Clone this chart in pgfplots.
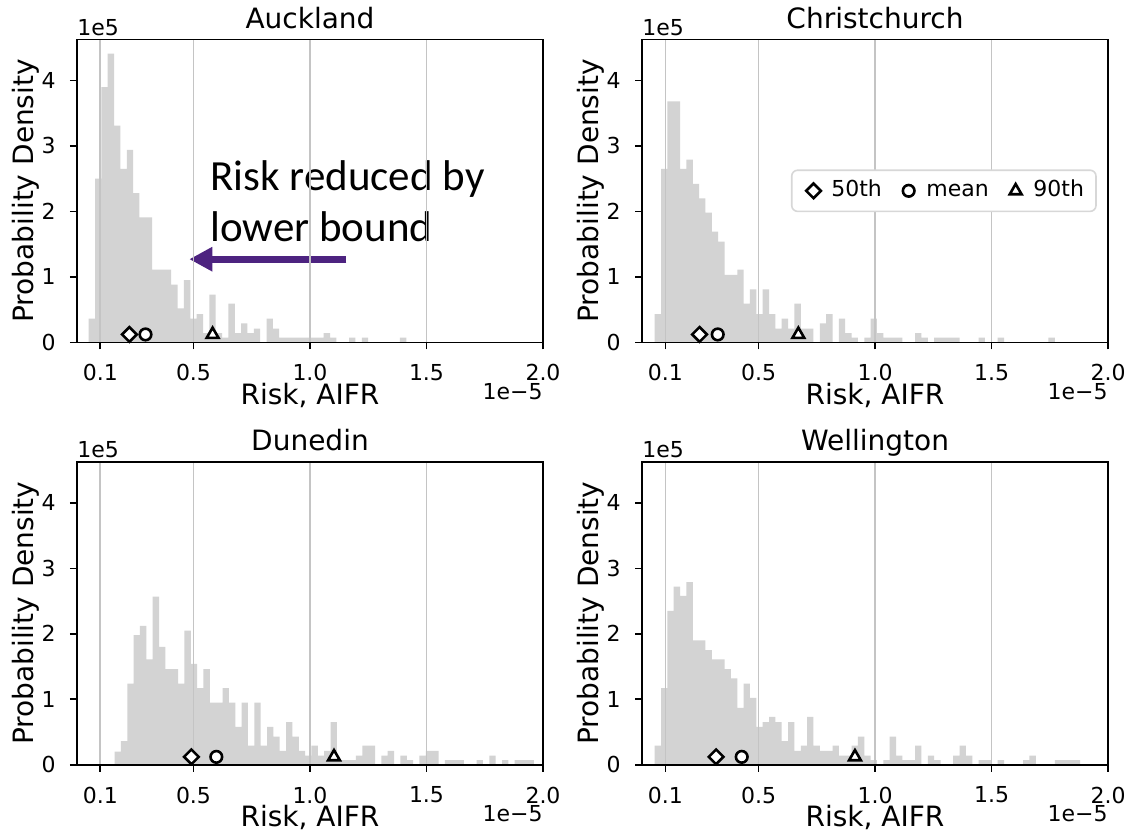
\documentclass[border=0pt]{standalone}
\usepackage{fontspec}
\setmainfont{DejaVu Sans}
\newfontfamily\annfont{Carlito}
\usepackage{pgfplots}
\pgfplotsset{compat=1.18}
\usetikzlibrary{arrows.meta}
\definecolor{histgray}{RGB}{211,211,211}
\definecolor{gridgray}{RGB}{196,196,196}
\definecolor{legframe}{RGB}{215,215,215}
\definecolor{annpurple}{RGB}{77,35,128}

\pgfplotsset{
  every axis title shift=0pt,
  riskaxis/.style={
    axis on top,
    scale only axis, width=233pt, height=151.5pt,
    xmin=0, xmax=2.0, ymin=0, ymax=4.63,
    xtick={0.1,0.5,1.0,1.5,2.0}, xticklabels={0.1,0.5,1.0,1.5,2.0},
    ytick={0,1,2,3,4}, yticklabels={0,1,2,3,4},
    tick pos=left, tick align=outside,
    major tick length=3.5pt,
    every tick/.style={black, line width=0.8pt},
    axis line style={black, line width=0.8pt},
    xmajorgrids=true, ymajorgrids=false,
    major grid style={gridgray, line width=0.8pt},
    tick label style={font=\fontsize{11}{13}\selectfont, inner sep=0pt},
    xticklabel style={anchor=north, yshift=-7.3pt},
    yticklabel style={anchor=east, xshift=-7pt},
    title style={at={(axis description cs:0.5,1.0373)}, anchor=base, inner sep=0pt, yshift=0pt, font=\fontsize{14}{16}\selectfont},
    every axis x label/.style={at={(axis description cs:0.5,-0.2046)}, anchor=base, inner sep=0pt, font=\fontsize{14}{16}\selectfont},
    every axis y label/.style={at={(axis description cs:-0.0923,0.5)}, anchor=base, rotate=90, inner sep=0pt, font=\fontsize{14}{16}\selectfont},
    xlabel={Risk, AIFR}, ylabel={Probability Density},
    clip=false,
  },
  histo/.style={const plot, fill=histgray, draw=none, forget plot},
  p50/.style={only marks, mark=square*, mark size=2.6pt, mark options={rotate=45, fill=white, draw=black, line width=1.3pt}},
  pmean/.style={only marks, mark=*, mark size=2.9pt, mark options={fill=white, draw=black, line width=1.3pt}},
  p90/.style={only marks, mark=triangle*, mark size=3.4pt, mark options={fill=white, draw=black, line width=1.3pt}},
}

\begin{document}
\begin{tikzpicture}
\path[use as bounding box] (0,0) rectangle (565pt,-416pt);

% ---------------- Auckland ----------------
\begin{axis}[riskaxis, at={(38.5pt,-19.65pt)}, anchor=north west, title={Auckland}]
\addplot[histo] coordinates {
(0.0501,0.36) (0.0774,2.50) (0.1046,3.90) (0.1319,4.41) (0.1591,3.31) (0.1864,2.65) (0.2137,2.94) (0.2409,2.28) (0.2682,1.91) (0.2954,1.91)
(0.3227,1.11) (0.3500,1.11) (0.3772,1.11) (0.4045,0.88) (0.4317,0.52) (0.4590,0.95) (0.4863,0.36) (0.5135,0.43) (0.5408,0.14) (0.5680,0.73)
(0.5953,0.14) (0.6226,0.07) (0.6498,0.59) (0.6771,0.14) (0.7043,0.29) (0.7316,0.14) (0.7589,0.21) (0.7861,0) (0.8134,0.36) (0.8406,0.21)
(0.8679,0.07) (0.8952,0.07) (0.9224,0.07) (0.9497,0.07) (0.9769,0.07) (1.0042,0.07) (1.0315,0.07) (1.0587,0.14) (1.0860,0.07) (1.1132,0)
(1.1405,0) (1.1678,0.07) (1.1950,0) (1.2223,0.07) (1.2495,0) (1.2768,0) (1.3041,0) (1.3313,0) (1.3586,0) (1.3858,0.07) (1.4131,0.07)
} \closedcycle;
\addplot[p50] coordinates {(0.225,0.12)};
\addplot[pmean] coordinates {(0.294,0.12)};
\addplot[p90] coordinates {(0.582,0.12)};
\draw[-{Triangle[length=11.5pt,width=11.5pt]}, annpurple, line width=3.5pt] (axis cs:1.156,1.27) -- (axis cs:0.482,1.27);
\node[anchor=base west, inner sep=0pt, font=\annfont\fontsize{21.5}{25}\selectfont] at (axis cs:0.571,2.313) {Risk reduced by};
\node[anchor=base west, inner sep=0pt, font=\annfont\fontsize{21.5}{25}\selectfont] at (axis cs:0.571,1.538) {lower bound};
\node[anchor=base west, inner sep=0pt, font=\fontsize{11}{13}\selectfont] at (axis description cs:0,1.0142) {1e5};
\node[anchor=base east, inner sep=0pt, font=\fontsize{11}{13}\selectfont] at (axis description cs:1,-0.1871) {1e−5};
\end{axis}

% ---------------- Christchurch ----------------
\begin{axis}[riskaxis, at={(321pt,-19.65pt)}, anchor=north west, title={Christchurch},
  legend columns=3,
  legend image code/.code={\path (0pt,0pt) (13pt,0pt); \draw[mark repeat=2,mark phase=2,#1] plot coordinates {(0pt,0pt) (6.5pt,0pt) (13pt,0pt)};},
  legend style={at={(axis description cs:0.976,0.5)}, anchor=east, draw=legframe, line width=0.8pt, rounded corners=3pt,
    fill=white, font=\fontsize{11}{13}\selectfont, inner xsep=4pt, inner ysep=3.2pt,
    nodes={inner xsep=2pt, inner ysep=2pt, text height=8pt, text depth=2.2pt},
    /tikz/every even column/.append style={column sep=4.5pt}},
  legend cell align=left]
\addplot[histo] coordinates {
(0.0544,0.43) (0.0817,2.65) (0.1089,3.68) (0.1362,3.68) (0.1634,2.65) (0.1907,2.79) (0.2180,2.42) (0.2452,2.20) (0.2725,1.98) (0.2997,1.69)
(0.3270,1.54) (0.3543,1.03) (0.3815,1.03) (0.4088,1.11) (0.4360,0.59) (0.4633,0.81) (0.4906,0.43) (0.5178,0.81) (0.5451,0.43) (0.5723,0.21)
(0.5996,0.36) (0.6269,0.21) (0.6541,0.59) (0.6814,0.21) (0.7086,0.21) (0.7359,0) (0.7632,0.29) (0.7904,0.43) (0.8177,0) (0.8449,0.36)
(0.8722,0.14) (0.8995,0.07) (0.9267,0) (0.9540,0.07) (0.9812,0.36) (1.0085,0.14) (1.0358,0.07) (1.0630,0.07) (1.0903,0.07) (1.1175,0)
(1.1448,0) (1.1721,0.14) (1.1993,0.07) (1.2266,0) (1.2538,0.07) (1.2811,0.07) (1.3084,0.07) (1.3356,0.07) (1.3629,0) (1.3901,0)
(1.4174,0) (1.4447,0.07) (1.4719,0) (1.4992,0) (1.5264,0.07) (1.5537,0) (1.5810,0) (1.6082,0) (1.6355,0) (1.6627,0)
(1.6900,0) (1.7173,0) (1.7445,0.07) (1.7718,0.07)
} \closedcycle;
\addplot[p50] coordinates {(0.247,0.12)}; \addlegendentry{50th}
\addplot[pmean] coordinates {(0.325,0.12)}; \addlegendentry{mean}
\addplot[p90] coordinates {(0.671,0.12)}; \addlegendentry{90th}
\node[anchor=base west, inner sep=0pt, font=\fontsize{11}{13}\selectfont] at (axis description cs:0,1.0142) {1e5};
\node[anchor=base east, inner sep=0pt, font=\fontsize{11}{13}\selectfont] at (axis description cs:1,-0.1871) {1e−5};
\end{axis}

% ---------------- Dunedin ----------------
\begin{axis}[riskaxis, at={(38.5pt,-230.85pt)}, anchor=north west, title={Dunedin}]
\addplot[histo] coordinates {
(0.1613,0.20) (0.1886,0.36) (0.2158,1.24) (0.2431,1.98) (0.2703,2.12) (0.2976,1.61) (0.3249,2.57) (0.3521,1.80) (0.3794,1.46) (0.4066,1.46)
(0.4339,1.24) (0.4612,2.05) (0.4884,1.54) (0.5157,1.17) (0.5429,1.46) (0.5702,0.95) (0.5975,0.95) (0.6247,1.17) (0.6520,0.95) (0.6792,0.58)
(0.7065,0.95) (0.7338,0.29) (0.7610,0.95) (0.7883,0.29) (0.8155,0.58) (0.8428,0.43) (0.8701,0.21) (0.8973,0.65) (0.9246,0.43) (0.9518,0.21)
(0.9791,0.14) (1.0064,0.29) (1.0336,0.14) (1.0609,0.21) (1.0881,0.65) (1.1154,0.07) (1.1427,0.07) (1.1699,0.07) (1.1972,0.14) (1.2244,0.29)
(1.2517,0.29) (1.2790,0) (1.3062,0.14) (1.3335,0.21) (1.3607,0) (1.3880,0.14) (1.4153,0.07) (1.4425,0) (1.4698,0.14) (1.4970,0.21)
(1.5243,0.21) (1.5516,0) (1.5788,0.07) (1.6061,0.07) (1.6333,0.07) (1.6606,0) (1.6879,0) (1.7151,0.07) (1.7424,0) (1.7696,0.14)
(1.7969,0) (1.8242,0.07) (1.8514,0) (1.8787,0.07) (1.9059,0.07) (1.9332,0.07) (1.9605,0.07)
} \closedcycle;
\addplot[p50] coordinates {(0.491,0.12)};
\addplot[pmean] coordinates {(0.598,0.12)};
\addplot[p90] coordinates {(1.103,0.12)};
\node[anchor=base west, inner sep=0pt, font=\fontsize{11}{13}\selectfont] at (axis description cs:0,1.0142) {1e5};
\node[anchor=base east, inner sep=0pt, font=\fontsize{11}{13}\selectfont] at (axis description cs:1,-0.1871) {1e−5};
\end{axis}

% ---------------- Wellington ----------------
\begin{axis}[riskaxis, at={(321pt,-230.85pt)}, anchor=north west, title={Wellington}]
\addplot[histo] coordinates {
(0.0544,0.29) (0.0817,1.17) (0.1089,2.35) (0.1362,2.72) (0.1634,2.58) (0.1907,2.79) (0.2180,1.90) (0.2452,1.90) (0.2725,1.75) (0.2997,1.61)
(0.3270,1.61) (0.3543,1.46) (0.3815,1.32) (0.4088,0.87) (0.4360,1.24) (0.4633,1.02) (0.4906,0.58) (0.5178,0.65) (0.5451,0.73) (0.5723,0.65)
(0.5996,0.36) (0.6269,0.65) (0.6541,0.21) (0.6814,0.29) (0.7086,0.73) (0.7359,0.29) (0.7632,0.21) (0.7904,0.21) (0.8177,0.29) (0.8449,0.14)
(0.8722,0.14) (0.8995,0.29) (0.9267,0.43) (0.9540,0.14) (0.9812,0.07) (1.0085,0) (1.0358,0.07) (1.0630,0.43) (1.0903,0.14) (1.1175,0.07)
(1.1448,0.07) (1.1721,0.29) (1.1993,0) (1.2266,0.14) (1.2538,0.07) (1.2811,0) (1.3084,0) (1.3356,0.14) (1.3629,0.29) (1.3901,0.14)
(1.4174,0) (1.4447,0.07) (1.4719,0.07) (1.4992,0) (1.5264,0.07) (1.5537,0) (1.5810,0) (1.6082,0) (1.6355,0.07) (1.6627,0.14)
(1.6900,0) (1.7173,0) (1.7445,0) (1.7718,0.07) (1.7990,0.07) (1.8263,0.07) (1.8536,0.07) (1.8808,0.07)
} \closedcycle;
\addplot[p50] coordinates {(0.318,0.12)};
\addplot[pmean] coordinates {(0.428,0.12)};
\addplot[p90] coordinates {(0.914,0.12)};
\node[anchor=base west, inner sep=0pt, font=\fontsize{11}{13}\selectfont] at (axis description cs:0,1.0142) {1e5};
\node[anchor=base east, inner sep=0pt, font=\fontsize{11}{13}\selectfont] at (axis description cs:1,-0.1871) {1e−5};
\end{axis}
\end{tikzpicture}
\end{document}
